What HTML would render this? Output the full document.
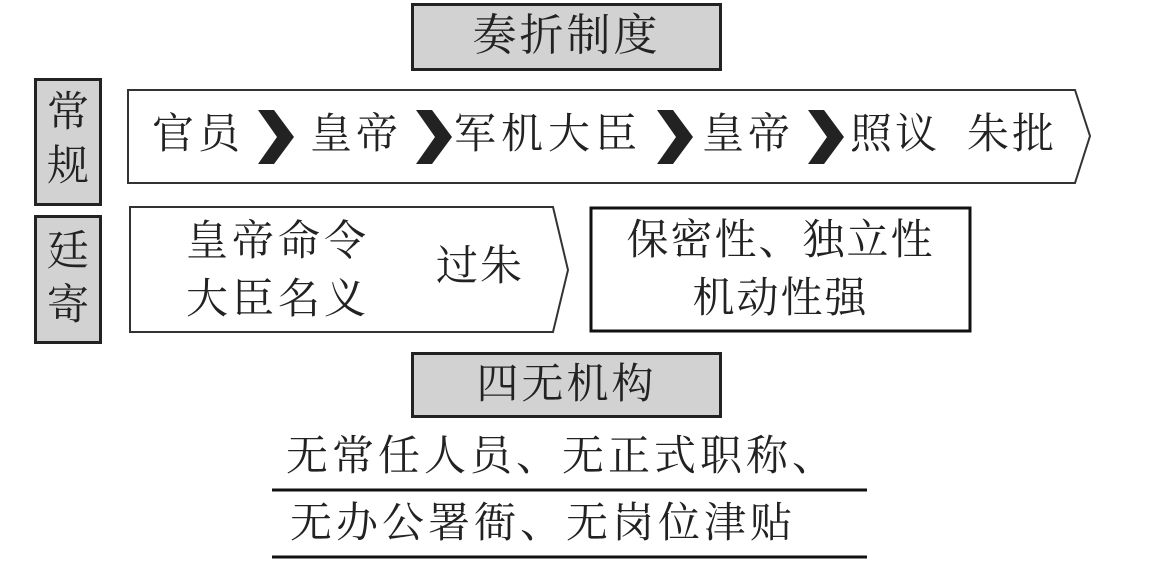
<!DOCTYPE html>
<html><head><meta charset="utf-8"><style>
body{margin:0;width:1150px;height:579px;background:#fff;position:relative;overflow:hidden;font-family:"Liberation Serif","Noto Serif CJK SC",serif;color:#222}
.a{position:absolute;white-space:nowrap}
.g{position:absolute;background:#d2d2d2;border:3px solid #222;box-sizing:border-box}
</style></head><body>
<svg class="a" style="left:0;top:0" width="1150" height="579">
<polygon points="128,90 1075,90 1090,136 1075,183 128,183" fill="#fff" stroke="#333" stroke-width="2"/>
<polygon points="130,207 553,207 568,270 553,332 130,332" fill="#fff" stroke="#333" stroke-width="2"/>
<rect x="591" y="208" width="379" height="123" fill="#fff" stroke="#111" stroke-width="3"/>
<g fill="#222">
<polygon points="258,110 274,110 294,137 274,164 258,164 277,137"/>
<polygon points="416,110 432,110 452,137 432,164 416,164 435,137"/>
<polygon points="657,110 673,110 693,137 673,164 657,164 676,137"/>
<polygon points="808,110 824,110 844,137 824,164 808,164 827,137"/>
</g>
<line x1="272" y1="490" x2="867" y2="490" stroke="#111" stroke-width="3"/>
<line x1="272" y1="557" x2="867" y2="557" stroke="#111" stroke-width="3"/>
</svg>
<div class="g" style="left:411px;top:3px;width:311px;height:68px"></div>
<div class="a" style="left:411px;top:8px;width:311px;text-align:center;font-size:44px;line-height:56px;letter-spacing:3px">奏折制度</div>
<div class="g" style="left:34px;top:78px;width:68px;height:128px"></div>
<div class="a" style="left:34px;top:86px;width:68px;text-align:center;font-size:42px;line-height:54px">常<br>规</div>
<div class="g" style="left:34px;top:215px;width:68px;height:129px"></div>
<div class="a" style="left:34px;top:225px;width:68px;text-align:center;font-size:42px;line-height:54px">廷<br>寄</div>
<div class="a" style="left:152px;top:110px;font-size:42px;line-height:50px;letter-spacing:4px">官员</div>
<div class="a" style="left:310px;top:110px;font-size:42px;line-height:50px;letter-spacing:4px">皇帝</div>
<div class="a" style="left:454px;top:110px;font-size:42px;line-height:50px;letter-spacing:5px">军机大臣</div>
<div class="a" style="left:702px;top:110px;font-size:42px;line-height:50px;letter-spacing:4px">皇帝</div>
<div class="a" style="left:850px;top:110px;font-size:42px;line-height:50px;letter-spacing:3px">照议&nbsp;&nbsp;朱批</div>
<div class="a" style="left:186px;top:213px;font-size:42px;line-height:58px;letter-spacing:4px">皇帝命令<br>大臣名义</div>
<div class="a" style="left:436px;top:242px;font-size:42px;line-height:50px;letter-spacing:2px">过朱</div>
<div class="a" style="left:591px;top:212px;width:379px;text-align:center;font-size:42px;line-height:58px;letter-spacing:2px">保密性、独立性<br>机动性强</div>
<div class="g" style="left:411px;top:352px;width:311px;height:66px"></div>
<div class="a" style="left:411px;top:357px;width:311px;text-align:center;font-size:42px;line-height:56px;letter-spacing:3px">四无机构</div>
<div class="a" style="left:286px;top:431px;font-size:42px;line-height:52px;letter-spacing:4px">无常任人员、无正式职称、</div>
<div class="a" style="left:290px;top:498px;font-size:42px;line-height:52px;letter-spacing:4px">无办公署衙、无岗位津贴</div>
</body></html>
